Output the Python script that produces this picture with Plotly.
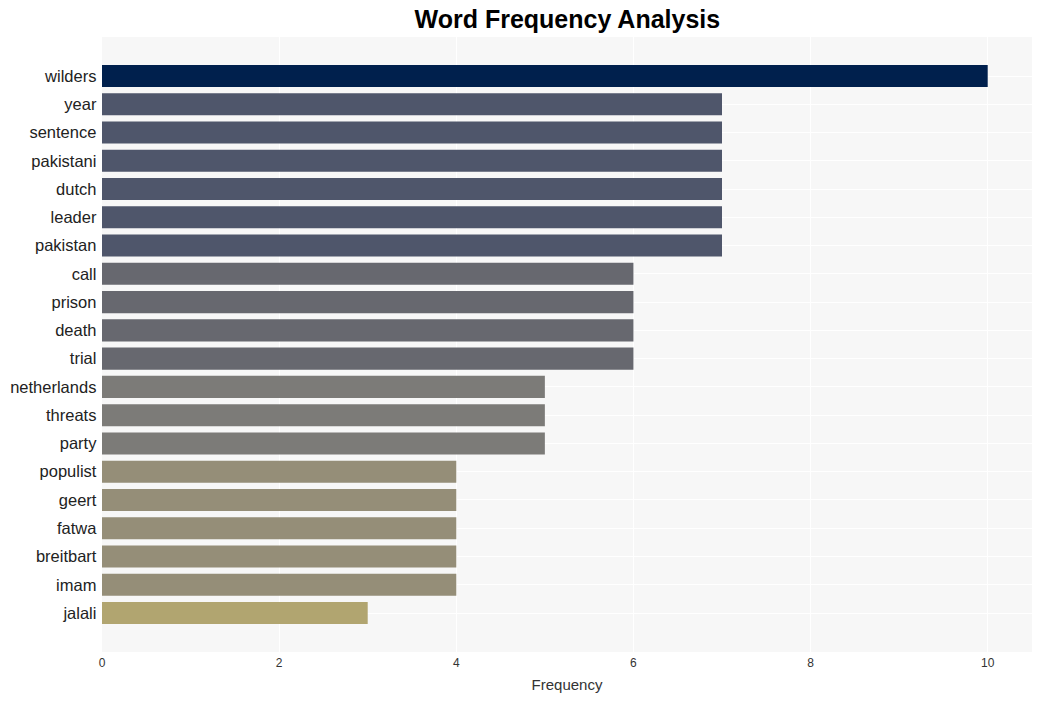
import plotly.graph_objects as go

words = ["wilders", "year", "sentence", "pakistani", "dutch", "leader", "pakistan",
         "call", "prison", "death", "trial", "netherlands", "threats", "party",
         "populist", "geert", "fatwa", "breitbart", "imam", "jalali"]
counts = [10, 7, 7, 7, 7, 7, 7, 6, 6, 6, 6, 5, 5, 5, 4, 4, 4, 4, 4, 3]
color_by_count = {10: "#00204d", 7: "#4f566b", 6: "#67686f", 5: "#7c7b78", 4: "#958e78", 3: "#b1a570"}
colors = [color_by_count[c] for c in counts]

fig = go.Figure(go.Bar(
    x=counts, y=words, orientation="h",
    marker=dict(color=colors, line=dict(width=0)),
))

fig.update_layout(
    width=1041, height=701,
    margin=dict(l=102, r=9, t=37, b=49),
    paper_bgcolor="white",
    plot_bgcolor="#f7f7f7",
    bargap=0.22,
    showlegend=False,
    title=dict(text="<b>Word Frequency Analysis</b>", x=0.545, xanchor="center",
               y=0.972, yanchor="middle",
               font=dict(family="Liberation Sans, Arial", size=25, color="black")),
    font=dict(family="Liberation Sans, Arial", color="#333"),
)
fig.update_xaxes(
    range=[0, 10.5], dtick=2, showgrid=True, gridcolor="white", gridwidth=1,
    zeroline=False, ticks="", tickfont=dict(size=12, color="#333"),
    ticklabelstandoff=2,
    title=dict(text="Frequency", font=dict(size=15, color="#333"), standoff=10),
)
fig.update_yaxes(
    categoryorder="array", categoryarray=words,
    range=[len(words) - 1 + 1.38, -1.38],
    showgrid=True, gridcolor="white", gridwidth=1,
    ticks="", ticksuffix=" ", tickfont=dict(size=16.5, color="#222"),
)

fig.write_html("out.html")
